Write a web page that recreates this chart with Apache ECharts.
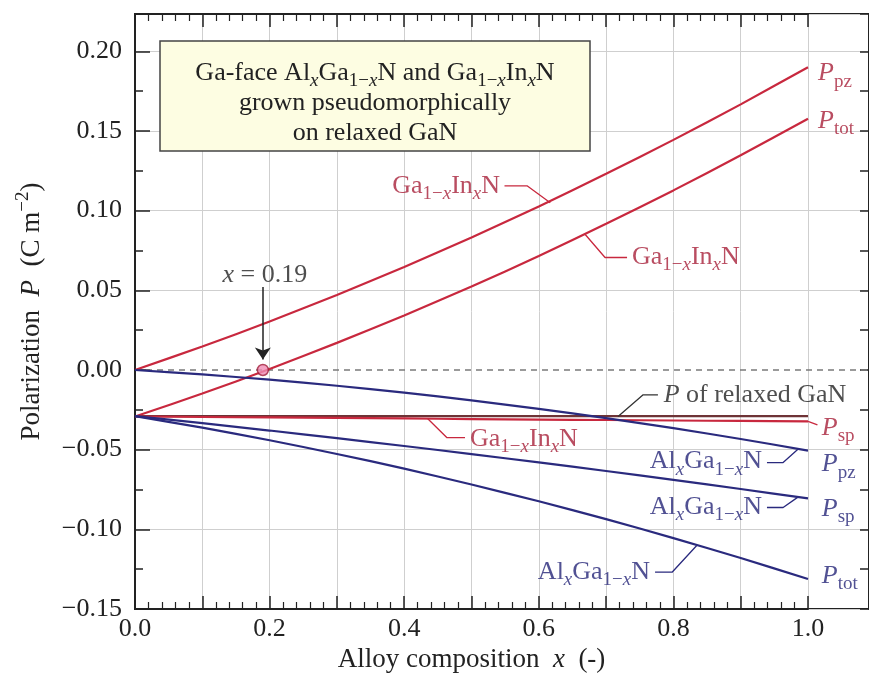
<!DOCTYPE html>
<html><head><meta charset="utf-8">
<script src="https://cdn.jsdelivr.net/npm/echarts@6/dist/echarts.min.js"></script>
<style>html,body{margin:0;padding:0;background:#fff}#c{width:869px;height:679px}</style>
</head><body><div id="c"></div>
<script>
// ---- data ----
const composition = [0, 0.1, 0.2, 0.3, 0.4, 0.5, 0.6, 0.7, 0.8, 0.9, 1.0];
const inganPpz  = [0, 0.0147, 0.0304, 0.0471, 0.0646, 0.0832, 0.1026, 0.1231, 0.1444, 0.1667, 0.1900];
const inganPtot = [-0.0292, -0.0148, 0.0006, 0.0170, 0.0342, 0.0524, 0.0715, 0.0917, 0.1127, 0.1347, 0.1577];
const inganPsp  = [-0.0292, -0.0295, -0.0298, -0.0301, -0.0304, -0.0308, -0.0311, -0.0314, -0.0317, -0.0320, -0.0323];
const relaxedGaN = [-0.0290, -0.0290, -0.0290, -0.0290, -0.0290, -0.0290, -0.0290, -0.0290, -0.0290, -0.0290, -0.0290];
const alganPpz  = [0, -0.0028, -0.0061, -0.0099, -0.0142, -0.0191, -0.0244, -0.0302, -0.0365, -0.0433, -0.0506];
const alganPsp  = [-0.0290, -0.0334, -0.0380, -0.0428, -0.0477, -0.0528, -0.0580, -0.0634, -0.0690, -0.0747, -0.0806];
const alganPtot = [-0.0290, -0.0362, -0.0441, -0.0527, -0.0619, -0.0719, -0.0824, -0.0936, -0.1055, -0.1180, -0.1312];
const crossing = [0.19, 0];
const xTickLabels = ['0.0', '0.2', '0.4', '0.6', '0.8', '1.0'];
const yTickLabels = ['\u22120.15', '\u22120.10', '\u22120.05', '0.00', '0.05', '0.10', '0.15', '0.20'];

// ---- styling ----
const FONT = '"Liberation Serif", "Times New Roman", serif';
const RED = '#c8283e', REDT = '#a8203a', BLUE = '#2a2a7e', BLUET = '#262678', DARK = '#222';
const Y_MIN = -0.15, Y_MAX = 0.2234, X_EXT = 1.0906;

function richFor(color, size) {
  const sub = Math.round(size * 0.72), lh = size + 4;
  const base = { fontFamily: FONT, color: color, fill: color, lineHeight: lh };
  return {
    n: Object.assign({}, base, { fontSize: size }),
    i: Object.assign({}, base, { fontSize: size, fontStyle: 'italic' }),
    s: Object.assign({}, base, { fontSize: sub, padding: [Math.round(size * 0.6), 0, 0, 0] }),
    si: Object.assign({}, base, { fontSize: sub, fontStyle: 'italic', padding: [Math.round(size * 0.6), 0, 0, 0] }),
    sup: Object.assign({}, base, { fontSize: sub, padding: [0, 0, Math.round(size * 0.6), 0] })
  };
}
const GaInN = '{n|Ga}{s|1\u2212}{si|x}{n|In}{si|x}{n|N}';
const AlGaN = '{n|Al}{si|x}{n|Ga}{s|1\u2212}{si|x}{n|N}';
const P = sub => '{i|P}{s|' + sub + '}';

function pairs(arr) { return composition.map((x, k) => [x, arr[k]]); }
function xLabel(v) {
  const k = Math.round(v * 10);
  if (Math.abs(v * 10 - k) > 1e-6 || k % 2) return '';
  return xTickLabels[k / 2] || '';
}
function yLabel(v) {
  const k = Math.round((v - Y_MIN) / 0.05);
  if (Math.abs((v - Y_MIN) / 0.05 - k) > 1e-6) return '';
  return yTickLabels[k] || '';
}
function curve(name, arr, color) {
  return { type: 'line', name: name, xAxisIndex: 0, yAxisIndex: 0, data: pairs(arr),
    symbol: 'none', smooth: 0.25, lineStyle: { color: color, width: 2.2 }, z: 3, silent: true };
}
function leader(pts, color) {
  return { type: 'line', xAxisIndex: 2, yAxisIndex: 2, data: pts, symbol: 'none',
    lineStyle: { color: color, width: 1.3 }, z: 4, silent: true };
}
function notes(items, color) {
  return { type: 'scatter', xAxisIndex: 2, yAxisIndex: 2, symbolSize: 0, z: 6, silent: true,
    label: { show: true, distance: 3, rich: richFor(color, 26) },
    data: items.map(it => ({ value: it[0], label: { formatter: it[1], position: it[2] } })) };
}

const gridLineColors = ['#cfcfcf', '#cfcfcf', '#cfcfcf', 'rgba(0,0,0,0)', '#cfcfcf', '#cfcfcf', '#cfcfcf', '#cfcfcf', '#cfcfcf'];

const option = {
  backgroundColor: '#fff',
  animation: false,
  grid: [
    { left: 135, right: 61, top: 14, bottom: 70, containLabel: false, outerBoundsMode: 'none' },
    { left: 135, right: 0, top: 14, bottom: 70, containLabel: false, outerBoundsMode: 'none',
      show: true, borderColor: DARK, borderWidth: 2, backgroundColor: 'transparent' }
  ],
  xAxis: [
    { gridIndex: 0, type: 'value', min: 0, max: 1, interval: 0.1, position: 'bottom',
      axisLine: { show: true, onZero: false, lineStyle: { color: DARK, width: 2 } },
      axisTick: { show: true, inside: true, length: 13, lineStyle: { color: DARK, width: 1.5 } },
      minorTick: { show: true, splitNumber: 5, length: 7, lineStyle: { color: DARK, width: 1.2 } },
      splitLine: { show: true, lineStyle: { color: '#cfcfcf', width: 1 } },
      axisLabel: { formatter: xLabel, fontFamily: FONT, fontSize: 26, color: DARK, margin: 7 },
      name: '{n|Alloy composition  }{i|x}{n|  (-)}', nameLocation: 'middle', nameGap: 35,
      nameTextStyle: { rich: richFor(DARK, 27) } },
    { gridIndex: 0, type: 'value', min: 0, max: 1, interval: 0.1, position: 'top',
      axisLine: { show: true, onZero: false, lineStyle: { color: DARK, width: 2 } },
      axisTick: { show: true, inside: true, length: 13, lineStyle: { color: DARK, width: 1.5 } },
      minorTick: { show: true, splitNumber: 5, length: 7, lineStyle: { color: DARK, width: 1.2 } },
      splitLine: { show: false }, axisLabel: { show: false } },
    { gridIndex: 1, type: 'value', min: 0, max: X_EXT, show: false }
  ],
  yAxis: [
    { gridIndex: 0, type: 'value', min: Y_MIN, max: Y_MAX, interval: 0.05, position: 'left',
      axisLine: { show: true, onZero: false, lineStyle: { color: DARK, width: 2 } },
      axisTick: { show: true, inside: true, length: 15, lineStyle: { color: DARK, width: 1.5 } },
      splitLine: { show: false },
      axisLabel: { formatter: yLabel, fontFamily: FONT, fontSize: 26, color: DARK, margin: 13 },
      name: '{n|Polarization  }{i|P}{n|  (C m}{sup|\u22122}{n|)}', nameLocation: 'middle', nameGap: 88, nameRotate: 90,
      nameTextStyle: { rich: richFor(DARK, 27) } },
    { gridIndex: 0, type: 'value', min: Y_MIN, max: Y_MAX, interval: 0.025, position: 'left',
      axisLine: { show: false, onZero: false },
      axisTick: { show: true, inside: true, length: 8, lineStyle: { color: DARK, width: 1.5 } },
      splitLine: { show: false }, axisLabel: { show: false } },
    { gridIndex: 1, type: 'value', min: Y_MIN, max: Y_MAX, interval: 0.025, position: 'right',
      axisLine: { show: true, onZero: false, lineStyle: { color: DARK, width: 2 } },
      axisTick: { show: true, inside: true, length: 9, lineStyle: { color: DARK, width: 1.5 } },
      splitLine: { show: false }, axisLabel: { show: false } },
    { gridIndex: 1, type: 'value', min: Y_MIN, max: Y_MAX, interval: 0.05, position: 'right',
      axisLine: { show: false, onZero: false }, axisTick: { show: false }, axisLabel: { show: false },
      splitLine: { show: true, lineStyle: { color: gridLineColors, width: 1 } } }
  ],
  series: [
    { type: 'line', xAxisIndex: 2, yAxisIndex: 2, data: [[0, 0], [X_EXT, 0]], symbol: 'none', z: 1, silent: true,
      lineStyle: { color: '#7a7a7a', width: 1.3, type: [6, 5] } },
    curve('relaxed GaN', relaxedGaN, '#6e3336'),
    curve('GaInN Psp', inganPsp, RED),
    curve('GaInN Ppz', inganPpz, RED),
    curve('GaInN Ptot', inganPtot, RED),
    curve('AlGaN Ppz', alganPpz, BLUE),
    curve('AlGaN Psp', alganPsp, BLUE),
    curve('AlGaN Ptot', alganPtot, BLUE),
    { type: 'scatter', xAxisIndex: 0, yAxisIndex: 0, data: [crossing], symbol: 'circle', symbolSize: 11, z: 8, silent: true,
      itemStyle: { color: '#f08cb4', borderColor: '#a01e3a', borderWidth: 1.5 } },
    leader([[0.549, 0.1156], [0.5825, 0.1156], [0.617, 0.105]], RED),
    leader([[0.668, 0.0855], [0.6984, 0.0706], [0.7311, 0.0706]], RED),
    leader([[0.435, -0.0306], [0.4636, -0.0425], [0.4903, -0.0425]], RED),
    leader([[1.0, -0.0323], [1.014, -0.0345]], RED),
    leader([[0.777, -0.0156], [0.755, -0.0156], [0.7177, -0.0292]], '#333'),
    leader([[0.939, -0.0581], [0.963, -0.0581], [0.985, -0.0497]], BLUE),
    leader([[0.939, -0.0863], [0.963, -0.0863], [0.985, -0.0798]], BLUE),
    leader([[0.7727, -0.1269], [0.798, -0.1269], [0.835, -0.110]], BLUE),
    { type: 'line', xAxisIndex: 2, yAxisIndex: 2, data: [], symbol: 'none', silent: true,
      markLine: { silent: true, symbol: ['none', 'arrow'], symbolSize: 12, label: { show: false },
        lineStyle: { color: '#222', width: 1.5, type: 'solid' },
        data: [[{ coord: [0.19, 0.052] }, { coord: [0.19, 0.0065] }]] } },
    notes([
      [[0.5468, 0.1156], GaInN, 'left'],
      [[0.7340, 0.0706], GaInN, 'right'],
      [[0.4933, -0.0435], GaInN, 'right'],
      [[1.0104, 0.1860], P('pz'), 'right'],
      [[1.0104, 0.1560], P('tot'), 'right'],
      [[1.0160, -0.0365], P('sp'), 'right']
    ], REDT),
    notes([
      [[0.936, -0.0575], AlGaN, 'left'],
      [[0.936, -0.0863], AlGaN, 'left'],
      [[0.7697, -0.1269], AlGaN, 'left'],
      [[1.0160, -0.0594], P('pz'), 'right'],
      [[1.0160, -0.0875], P('sp'), 'right'],
      [[1.0160, -0.1294], P('tot'), 'right']
    ], BLUET),
    notes([
      [[0.781, -0.0156], '{i|P}{n| of relaxed GaN}', 'right'],
      [[0.193, 0.0594], '{i|x}{n| = 0.19}', 'inside']
    ], DARK)
  ],
  graphic: [
    { type: 'rect', x: 160, y: 41, z: 10, shape: { width: 430, height: 110 },
      style: { fill: '#fdfde2', stroke: '#444', lineWidth: 1.5 } },
    { type: 'text', x: 375, y: 58, z: 11,
      style: { text: '{n|Ga-face Al}{si|x}{n|Ga}{s|1\u2212}{si|x}{n|N and Ga}{s|1\u2212}{si|x}{n|In}{si|x}{n|N}\n{n|grown pseudomorphically}\n{n|on relaxed GaN}',
        textAlign: 'center', textVerticalAlign: 'top', rich: richFor(DARK, 26) } }
  ]
};

const chart = echarts.init(document.getElementById('c'), null, { renderer: 'canvas' });
chart.setOption(option);
</script>
</body></html>
